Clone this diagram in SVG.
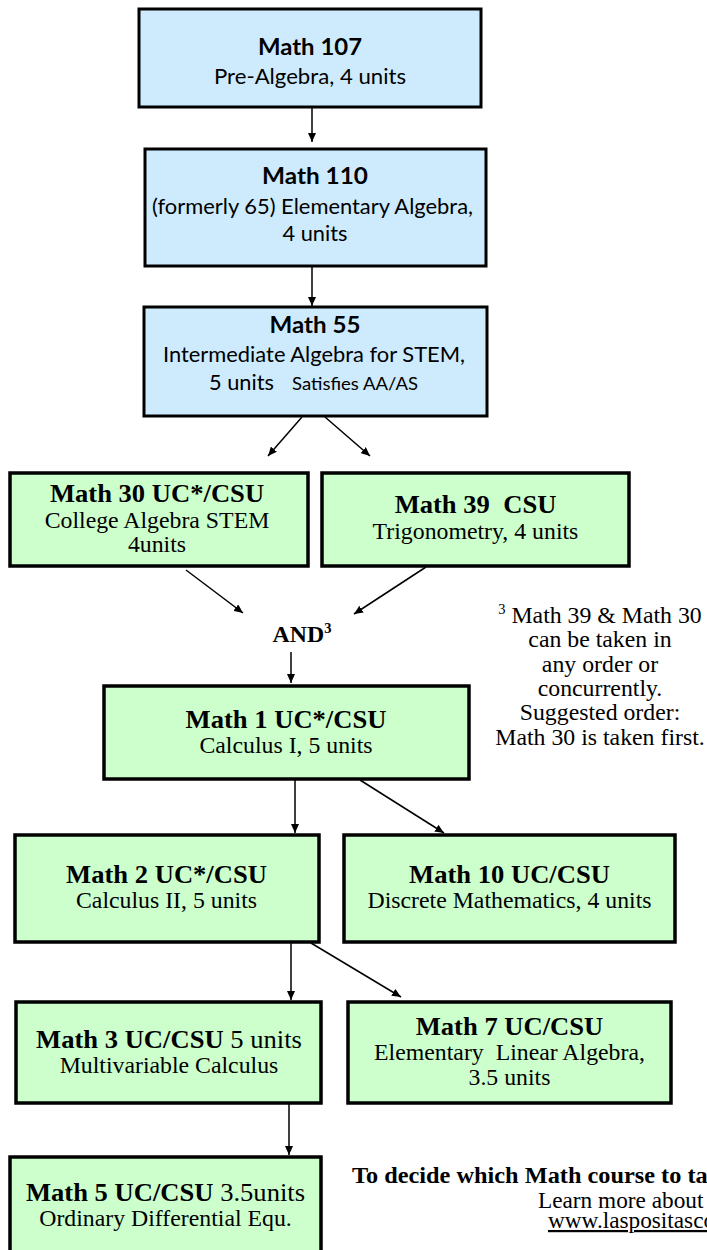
<svg xmlns="http://www.w3.org/2000/svg" width="707" height="1250" viewBox="0 0 707 1250">
<defs>
<marker id="ah" markerWidth="9" markerHeight="8" refX="9" refY="4" orient="auto" markerUnits="userSpaceOnUse">
<path d="M0,0 L9,4 L0,8 z" fill="#000"/>
</marker>
</defs>
<style>
.blue rect{fill:#CDEBFD;stroke:#000;stroke-width:3}
.green rect{fill:#CCFFCC;stroke:#000;stroke-width:3.5}
text{fill:#000}
.cal{font-family:Lato,"Open Sans","Liberation Sans",sans-serif}
.cb{font-weight:bold;font-size:23px}
.cr{font-size:20.5px}
.cs{font-size:17px}
.tm{font-family:"Liberation Serif","Times New Roman",serif;text-anchor:middle}
.tb{font-weight:bold;font-size:25.7px}
.tr{font-size:23px}
.pre{white-space:pre}
.ts{font-family:"Liberation Serif","Times New Roman",serif;font-size:22.5px}
.tsb{font-weight:bold;font-size:23.5px}
.conn line{stroke:#000;stroke-width:1.5;marker-end:url(#ah)}
</style>

<g id="connectors" class="conn">
<line x1="312" y1="108" x2="312" y2="142"/>
<line x1="312" y1="267" x2="312" y2="306"/>
<line x1="302" y1="417" x2="268" y2="456"/>
<line x1="325" y1="417" x2="370" y2="456"/>
<line x1="186" y1="570" x2="243" y2="613"/>
<line x1="426" y1="567" x2="354" y2="614"/>
<line x1="291" y1="652" x2="291" y2="683"/>
<line x1="295" y1="780" x2="295" y2="833"/>
<line x1="360" y1="780" x2="444" y2="833"/>
<line x1="291" y1="943" x2="291" y2="1000"/>
<line x1="311" y1="943" x2="401" y2="997"/>
<line x1="289" y1="1104" x2="289" y2="1155"/>
</g>

<g id="math107" class="blue">
<rect x="139" y="9" width="342" height="98"/>
<text class="cal cb" x="310" y="55" text-anchor="middle" textLength="104" lengthAdjust="spacingAndGlyphs">Math 107</text>
<text class="cal cr" x="310" y="84" text-anchor="middle" textLength="192" lengthAdjust="spacingAndGlyphs">Pre-Algebra, 4 units</text>
</g>

<g id="math110" class="blue">
<rect x="145" y="149" width="341" height="117"/>
<text class="cal cb" x="315" y="184" text-anchor="middle" textLength="106" lengthAdjust="spacingAndGlyphs">Math 110</text>
<text class="cal cr" x="312.5" y="214" text-anchor="middle" textLength="321" lengthAdjust="spacingAndGlyphs">(formerly 65) Elementary Algebra,</text>
<text class="cal cr" x="315" y="241" text-anchor="middle" textLength="65" lengthAdjust="spacingAndGlyphs">4 units</text>
</g>

<g id="math55" class="blue">
<rect x="144" y="307" width="343" height="109"/>
<text class="cal cb" x="315" y="333" text-anchor="middle" textLength="91" lengthAdjust="spacingAndGlyphs">Math 55</text>
<text class="cal cr" x="314" y="362" text-anchor="middle" textLength="302" lengthAdjust="spacingAndGlyphs">Intermediate Algebra for STEM,</text>
<text class="cal cr" x="209" y="390" textLength="65" lengthAdjust="spacingAndGlyphs">5 units</text>
<text class="cal cs" x="292" y="390" textLength="126" lengthAdjust="spacingAndGlyphs">Satisfies AA/AS</text>
</g>

<g id="math30" class="green">
<rect x="10" y="473" width="298" height="93"/>
<g transform="translate(157 0) scale(1.035 1)">
<text class="tm tb" x="0" y="502">Math 30 UC*/CSU</text>
<text class="tm tr" x="0" y="528">College Algebra STEM</text>
<text class="tm tr" x="0" y="552">4units</text>
</g>
</g>

<g id="math39" class="green">
<rect x="322" y="473" width="307" height="93"/>
<g transform="translate(475.5 0) scale(1.035 1)">
<text class="tm tb pre" x="0" y="513">Math 39  CSU</text>
<text class="tm tr" x="0" y="539">Trigonometry, 4 units</text>
</g>
</g>

<g id="and">
<g transform="translate(302 0) scale(1.035 1)">
<text class="tm" x="0" y="642" font-weight="bold" font-size="23">AND<tspan font-size="14" dy="-9">3</tspan></text>
</g>
</g>

<g id="footnote">
<g transform="translate(600 0) scale(1.035 1)">
<text class="tm tr" x="0" y="623"><tspan font-size="14" dy="-9">3</tspan><tspan dy="9"> Math 39 &amp; Math 30</tspan></text>
<text class="tm tr" x="0" y="647.5">can be taken in</text>
<text class="tm tr" x="0" y="672">any order or</text>
<text class="tm tr" x="0" y="696">concurrently.</text>
<text class="tm tr" x="0" y="720.5">Suggested order:</text>
<text class="tm tr" x="0" y="745">Math 30 is taken first.</text>
</g>
</g>

<g id="math1" class="green">
<rect x="104" y="686" width="365" height="93"/>
<g transform="translate(286 0) scale(1.035 1)">
<text class="tm tb" x="0" y="728">Math 1 UC*/CSU</text>
<text class="tm tr" x="0" y="753">Calculus I, 5 units</text>
</g>
</g>

<g id="math2" class="green">
<rect x="15" y="835" width="304" height="107"/>
<g transform="translate(166.5 0) scale(1.035 1)">
<text class="tm tb" x="0" y="883">Math 2 UC*/CSU</text>
<text class="tm tr" x="0" y="908">Calculus II, 5 units</text>
</g>
</g>

<g id="math10" class="green">
<rect x="344" y="835" width="331" height="107"/>
<g transform="translate(509.5 0) scale(1.035 1)">
<text class="tm tb" x="0" y="883">Math 10 UC/CSU</text>
<text class="tm tr" x="0" y="908">Discrete Mathematics, 4 units</text>
</g>
</g>

<g id="math3" class="green">
<rect x="16" y="1002" width="305" height="101"/>
<g transform="translate(169 0) scale(1.035 1)">
<text class="tm" x="0" y="1048" font-size="25.7"><tspan font-weight="bold">Math 3 UC/CSU</tspan><tspan> 5 units</tspan></text>
<text class="tm tr" x="0" y="1073">Multivariable Calculus</text>
</g>
</g>

<g id="math7" class="green">
<rect x="348" y="1002" width="323" height="101"/>
<g transform="translate(509.5 0) scale(1.035 1)">
<text class="tm tb" x="0" y="1035">Math 7 UC/CSU</text>
<text class="tm tr pre" x="0" y="1060">Elementary  Linear Algebra,</text>
<text class="tm tr" x="0" y="1085">3.5 units</text>
</g>
</g>

<g id="math5" class="green">
<rect x="10" y="1157" width="311" height="110"/>
<g transform="translate(165.5 0) scale(1.035 1)">
<text class="tm" x="0" y="1201" font-size="25.7"><tspan font-weight="bold">Math 5 UC/CSU</tspan><tspan> 3.5units</tspan></text>
<text class="tm tr" x="0" y="1226">Ordinary Differential Equ.</text>
</g>
</g>

<g id="note">
<g transform="translate(352 0) scale(1.035 1)">
<text class="ts tsb" x="0" y="1183">To decide which Math course to take</text>
</g>
<g transform="translate(538 0) scale(1.035 1)">
<text class="ts" x="0" y="1208">Learn more about</text>
</g>
<g transform="translate(548 0) scale(1.035 1)">
<text class="ts" x="0" y="1228" text-decoration="underline">www.laspositascollege.edu</text>
</g>
</g>
</svg>
